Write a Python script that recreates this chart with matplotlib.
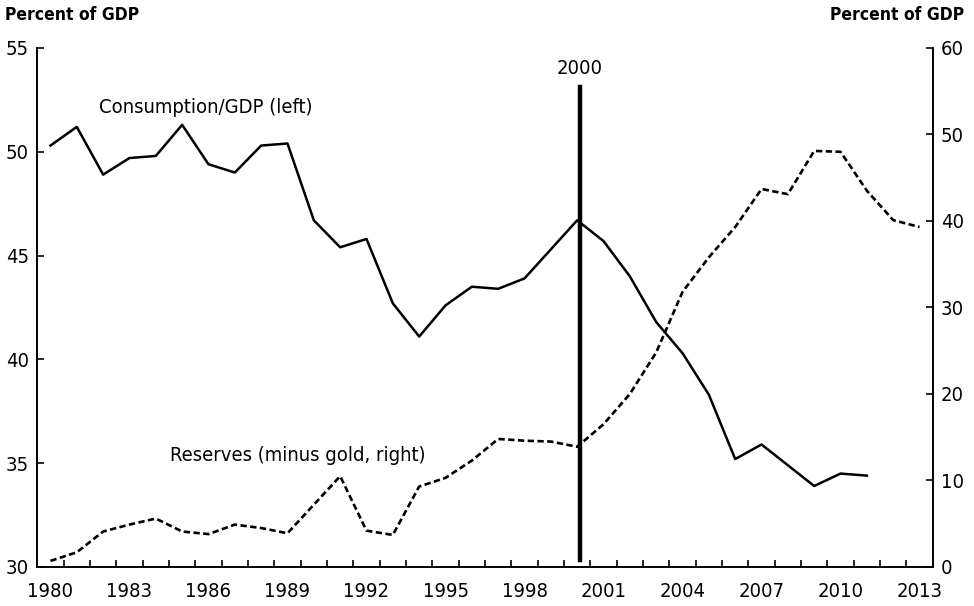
import matplotlib
matplotlib.use('Agg')
import matplotlib.pyplot as plt
import numpy as np

plt.rcParams['font.family'] = ['DejaVu Sans']
plt.rcParams['font.stretch'] = 'condensed'

years = list(range(1980, 2014))

# consumption as share of GDP, left axis (ends 2011)
consumption = [50.3, 51.2, 48.9, 49.7, 49.8, 51.3, 49.4, 49.0, 50.3, 50.4,
               46.7, 45.4, 45.8, 42.7, 41.1, 42.6, 43.5, 43.4, 43.9, 45.3,
               46.7, 45.7, 44.0, 41.8, 40.3, 38.3, 35.2, 35.9, 34.9, 33.9,
               34.5, 34.4]

# reserves minus gold, right axis
reserves = [0.7, 1.7, 4.1, 4.9, 5.6, 4.1, 3.8, 4.9, 4.5, 3.9,
            7.2, 10.5, 4.2, 3.7, 9.3, 10.3, 12.3, 14.8, 14.6, 14.5,
            13.9, 16.5, 20.0, 24.8, 31.8, 35.8, 39.3, 43.7, 43.1, 48.1,
            48.0, 43.5, 40.1, 39.3]

label_years = [1980, 1983, 1986, 1989, 1992, 1995, 1998, 2001, 2004, 2007, 2010, 2013]
marker_year = 2000

fig = plt.figure(figsize=(9.74, 6.06), dpi=100)
ax = fig.add_axes([0.0383, 0.0644, 0.9193, 0.8564])
ax2 = ax.twinx()

x_c = np.array(years[:len(consumption)]) + 0.5
x_r = np.array(years[:len(reserves)]) + 0.5

ax.plot(x_c, consumption, color='black', lw=1.8, zorder=3)
ax2.plot(x_r, reserves, color='black', lw=1.9, dashes=(2.4, 1.3), zorder=3)

# 2000 marker line
ax.plot([marker_year + 0.6, marker_year + 0.6], [30.35, 53.1], color='black', lw=3.2, zorder=4)
ax.text(marker_year + 0.6, 53.55, '2000', ha='center', va='bottom', fontsize=14.5)

ax.text(1982.35, 52.15, 'Consumption/GDP (left)', ha='left', va='center', fontsize=14.5)
ax.text(1985.05, 35.35, 'Reserves (minus gold, right)', ha='left', va='center', fontsize=14.5)

ax.set_xlim(1980, 2014)
ax.set_ylim(30, 55)
ax2.set_ylim(0, 60)

ax.set_xticks([y + 0.5 for y in label_years])
ax.set_xticklabels([str(y) for y in label_years])
ax.set_xticks(range(1980, 2015), minor=True)
ax.tick_params(axis='x', which='major', length=0, pad=11, labelsize=14.5)
ax.tick_params(axis='x', which='minor', direction='in', length=5, width=1.2)

ax.set_yticks([30, 35, 40, 45, 50, 55])
ax2.set_yticks([0, 10, 20, 30, 40, 50, 60])
ax.tick_params(axis='y', direction='in', length=5, width=1.2, pad=6, labelsize=14.5)
ax2.tick_params(axis='y', direction='in', length=5, width=1.2, pad=6, labelsize=14.5)

for a in (ax, ax2):
    a.spines['top'].set_visible(False)
    for s in ('left', 'right', 'bottom'):
        a.spines[s].set_linewidth(1.2)

fig.text(0.005, 0.975, 'Percent of GDP', ha='left', va='center', fontsize=12.5, fontweight='bold')
fig.text(0.99, 0.975, 'Percent of GDP', ha='right', va='center', fontsize=12.5, fontweight='bold')

fig.savefig('out.png', dpi=100)
